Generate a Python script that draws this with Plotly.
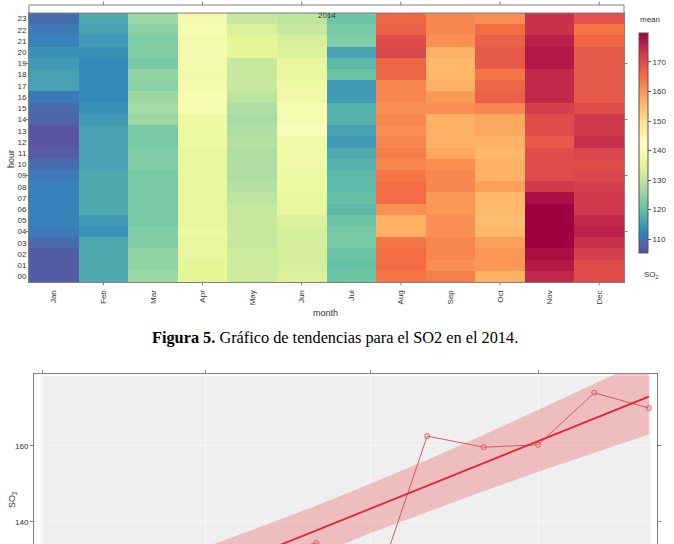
import plotly.graph_objects as go

W, H = 674, 544

# ---------------- Heatmap data (mean SO2 by hour, per month; hour 00..23) -------------
months = ["Jan", "Feb", "Mar", "Apr", "May", "Jun", "Jul", "Aug", "Sep", "Oct", "Nov", "Dec"]
hours = ["%02d" % h for h in range(24)]

jan = [107,107,107,109,111,112,112,112,112,111,109,107,106,106,108,109,111,116,116,115,114,112,111,109]
feb = [117,117,117,117,114,115,117,117,117,117,116,116,116,116,115,114,113,113,113,113,114,115,116,117]
mar = [126,125,125,123,123,122,122,122,122,122,123,123,122,122,126,127,126,124,125,122,123,123,124,126]
apr = [135,135,136,136,137,136,136,136,136,136,136,136,137,137,137,140,140,139,138,139,139,139,140,139]
may = [132,132,132,131,131,131,131,130,129,128,128,128,129,128,127,128,130,131,131,131,135,135,134,131]
jun = [134,133,133,133,133,134,136,136,137,137,138,138,138,141,140,140,138,137,136,136,134,133,131,130]
jul = [121,120,121,122,122,121,119,120,119,119,118,117,115,116,118,118,115,115,121,119,116,123,122,121]
aug = [164,165,165,164,157,157,161,165,165,164,162,163,162,161,162,161,162,162,166,166,171,170,167,166]
sep = [163,161,162,162,161,161,160,160,162,162,161,158,157,157,157,161,160,157,156,156,157,161,162,162]
oct_ = [157,160,160,159,156,155,156,156,159,157,157,156,157,158,158,162,167,166,164,168,168,167,165,161]
nov = [175,177,178,180,181,181,180,178,173,170,170,170,168,170,170,172,175,175,175,177,177,176,174,174]
dec = [170,170,172,174,176,175,173,173,172,171,170,171,174,173,173,170,168,168,168,168,168,166,164,169]
month_cols = [jan, feb, mar, apr, may, jun, jul, aug, sep, oct_, nov, dec]

x_tick_months = [1, 3, 5, 7, 9, 11]       # month indices that carry tick marks
y_tick_hours = [4, 9, 14, 19]              # hours that carry tick marks
cbar_ticks = [110, 120, 130, 140, 150, 160, 170]
strip_label = "2014"

# ---------------- Trend chart data (monthly means, Theil-Sen trend) --------------------
dates = ["2014-01-01", "2014-02-01", "2014-03-01", "2014-04-01", "2014-05-01", "2014-06-01",
         "2014-07-01", "2014-08-01", "2014-09-01", "2014-10-01", "2014-11-01", "2014-12-01"]
monthly_mean = [110.0, 116.0, 124.0, 133.0, 131.0, 134.5, 119.0, 162.6, 159.7, 160.3, 174.0, 170.0]
trend_dates = ["2014-01-01", "2014-12-01"]
trend_vals = [108.7, 173.0]
band_lower = [98.7, 105.7, 112.0, 118.6, 124.9, 131.3, 137.1, 142.7, 148.1, 153.2, 158.2, 163.0]
band_upper = [118.7, 123.7, 128.3, 133.4, 138.7, 144.3, 150.1, 156.3, 162.9, 169.4, 176.2, 183.0]
trend_ticks = ["2014-01-01", "2014-04-01", "2014-07-01", "2014-10-01"]

caption = "<b>Figura 5.</b> Gráfico de tendencias para el SO2 en el 2014."

# ---------------- helpers ----------------
def px_x(p):
    return p / W

def px_y(p):
    return 1 - p / H

z = [[month_cols[m][h] for m in range(12)] for h in range(24)]

FONT = "Liberation Sans, Arial, sans-serif"
AX = "#7f7f7f"
TXT = "#333333"

fig = go.Figure()

fig.add_trace(go.Heatmap(
    x=months, y=hours, z=z,
    colorscale="Spectral_r", zmin=105.3, zmax=179.8,
    xaxis="x", yaxis="y",
    colorbar=dict(
        x=px_x(639), xanchor="left", xpad=0, ypad=0,
        y=px_y(143), yanchor="middle", len=220 / H, lenmode="fraction",
        thickness=9, outlinewidth=1, outlinecolor="#555555",
        tickvals=cbar_ticks, ticks="outside", ticklen=3, tickcolor="#555555",
        tickfont=dict(size=8, color=TXT, family=FONT),
    ),
    showscale=True,
))

# band
fig.add_trace(go.Scatter(x=dates, y=band_lower, mode="lines", line=dict(width=0),
                         xaxis="x2", yaxis="y2", showlegend=False, hoverinfo="skip"))
fig.add_trace(go.Scatter(x=dates, y=band_upper, mode="lines", line=dict(width=0),
                         fill="tonexty", fillcolor="rgba(236,96,104,0.35)",
                         xaxis="x2", yaxis="y2", showlegend=False, hoverinfo="skip"))
# data
fig.add_trace(go.Scatter(x=dates, y=monthly_mean, mode="lines+markers",
                         line=dict(color="#dc5a62", width=1),
                         marker=dict(symbol="circle-open", size=5, color="#dc5a62", line=dict(width=1)),
                         xaxis="x2", yaxis="y2", showlegend=False))
# trend
fig.add_trace(go.Scatter(x=trend_dates, y=trend_vals, mode="lines",
                         line=dict(color="#e3252d", width=1.8),
                         xaxis="x2", yaxis="y2", showlegend=False))

shapes = []
# strip above heatmap
shapes.append(dict(type="rect", xref="paper", yref="paper",
                   x0=px_x(29), x1=px_x(624), y0=px_y(13), y1=px_y(5),
                   line=dict(color=AX, width=1), fillcolor="white", layer="above"))
# month ticks (bottom + top of strip)
for m in x_tick_months:
    shapes.append(dict(type="line", xref="x", yref="paper", x0=m, x1=m,
                       y0=px_y(282), y1=px_y(285.5), line=dict(color=AX, width=1)))
    shapes.append(dict(type="line", xref="x", yref="paper", x0=m, x1=m,
                       y0=px_y(5), y1=px_y(1.5), line=dict(color=AX, width=1)))
# hour ticks (left + right)
for h in y_tick_hours:
    shapes.append(dict(type="line", xref="paper", yref="y", x0=px_x(25.5), x1=px_x(29),
                       y0=h, y1=h, line=dict(color=AX, width=1)))
    shapes.append(dict(type="line", xref="paper", yref="y", x0=px_x(624), x1=px_x(627.5),
                       y0=h, y1=h, line=dict(color=AX, width=1)))
# grey panel of trend chart
shapes.append(dict(type="rect", xref="x2", yref="paper",
                   x0="2013-12-31 12:00", x1="2014-12-02", y0=0, y1=px_y(376),
                   fillcolor="#efefef", line=dict(width=0), layer="below"))

annotations = [
    dict(text=strip_label, x=px_x(326.5), y=px_y(9), xref="paper", yref="paper",
         showarrow=False, font=dict(size=8, color=TXT, family=FONT)),
    dict(text="hour", x=px_x(4), y=px_y(148), xref="paper", yref="paper", textangle=-90,
         showarrow=False, font=dict(size=9, color=TXT, family=FONT)),
    dict(text="month", x=px_x(325), y=px_y(313), xref="paper", yref="paper",
         showarrow=False, font=dict(size=9, color=TXT, family=FONT)),
    dict(text="mean", x=px_x(662), y=px_y(13), xref="paper", yref="paper",
         showarrow=False, font=dict(size=8, color=TXT, family=FONT)),
    dict(text="SO<sub>2</sub>", x=px_x(661), y=px_y(275), xref="paper", yref="paper",
         showarrow=False, font=dict(size=8, color=TXT, family=FONT)),
    dict(text="SO<sub>2</sub>", x=px_x(5), y=px_y(510), xref="paper", yref="paper", textangle=-90,
         showarrow=False, font=dict(size=9, color=TXT, family=FONT)),
    dict(text=caption, x=px_x(335), y=px_y(337), xref="paper", yref="paper",
         showarrow=False, font=dict(size=16.3, color="black", family="Liberation Serif, Times New Roman, serif")),
]

fig.update_layout(
    width=W, height=H, margin=dict(l=0, r=0, t=0, b=0),
    paper_bgcolor="white", plot_bgcolor="white",
    showlegend=False,
    shapes=shapes, annotations=annotations,
    xaxis=dict(domain=[px_x(29), px_x(624)], anchor="y", type="category",
               tickangle=-90, ticks="", ticklabelstandoff=4,
               tickfont=dict(size=8, color=TXT, family=FONT),
               showline=True, mirror=True, linecolor=AX, linewidth=1, showgrid=False,
               zeroline=False, fixedrange=True),
    yaxis=dict(domain=[px_y(282), px_y(13)], anchor="x", type="category",
               ticks="", tickfont=dict(size=8, color=TXT, family=FONT),
               showline=True, mirror=True, linecolor=AX, linewidth=1, showgrid=False,
               zeroline=False),
    xaxis2=dict(domain=[px_x(34), px_x(657)], anchor="y2", type="date",
                range=["2013-12-27 14:00", "2014-12-05 12:00"], side="top",
                tickvals=trend_ticks, ticks="outside", ticklen=3, tickcolor=AX,
                showticklabels=False, showline=True, linecolor=AX, linewidth=1,
                showgrid=True, gridcolor="#f7f7f7", zeroline=False),
    yaxis2=dict(domain=[0, px_y(374)], anchor="x2", range=[134.2, 178.95],
                tickvals=[140, 160], ticks="outside", ticklen=3, tickcolor=AX,
                tickfont=dict(size=8, color=TXT, family=FONT),
                showline=True, mirror="ticks", linecolor=AX, linewidth=1,
                showgrid=True, gridcolor="#f7f7f7", zeroline=False),
)

fig.write_html("out.html")
